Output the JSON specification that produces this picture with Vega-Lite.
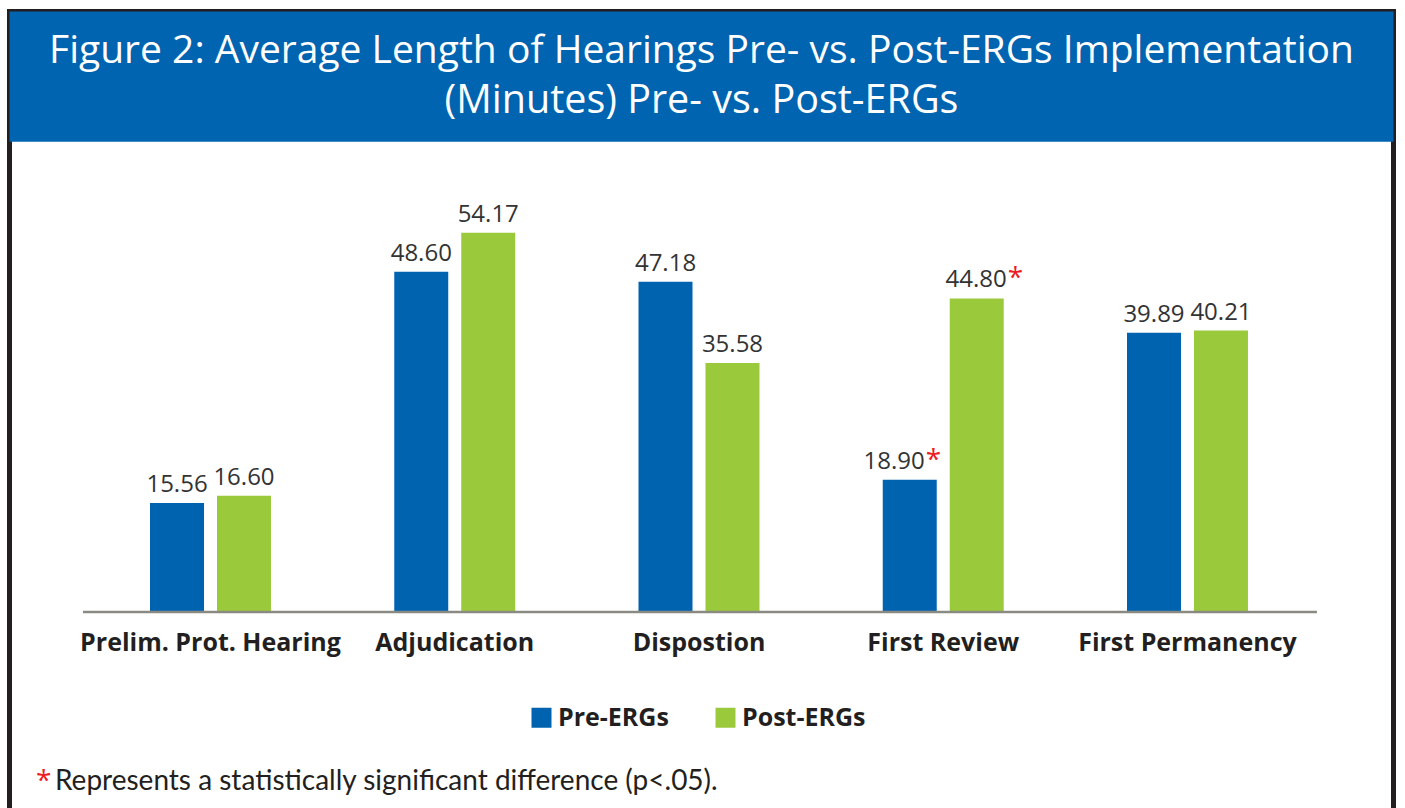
{
  "$schema": "https://vega.github.io/schema/vega-lite/v6.json",
  "width": 1384,
  "height": 799.5,
  "autosize": {"type": "none"},
  "padding": {"left": 9.5, "top": 11.5, "right": 11.5, "bottom": -3},
  "background": "white",
  "config": {
    "view": {"stroke": "#231f20", "strokeWidth": 5, "fill": "white"},
    "font": "Open Sans"
  },
  "data": {
    "values": [
      {"hearing": "Prelim. Prot. Hearing", "period": "Pre-ERGs", "minutes": 15.56, "sig": false},
      {"hearing": "Prelim. Prot. Hearing", "period": "Post-ERGs", "minutes": 16.60, "sig": false},
      {"hearing": "Adjudication", "period": "Pre-ERGs", "minutes": 48.60, "sig": false},
      {"hearing": "Adjudication", "period": "Post-ERGs", "minutes": 54.17, "sig": false},
      {"hearing": "Dispostion", "period": "Pre-ERGs", "minutes": 47.18, "sig": false},
      {"hearing": "Dispostion", "period": "Post-ERGs", "minutes": 35.58, "sig": false},
      {"hearing": "First Review", "period": "Pre-ERGs", "minutes": 18.90, "sig": true},
      {"hearing": "First Review", "period": "Post-ERGs", "minutes": 44.80, "sig": true},
      {"hearing": "First Permanency", "period": "Pre-ERGs", "minutes": 39.89, "sig": false},
      {"hearing": "First Permanency", "period": "Post-ERGs", "minutes": 40.21, "sig": false}
    ]
  },
  "layer": [
    {
      "data": {"values": [{}]},
      "mark": {"type": "rect", "color": "#0064b0"},
      "encoding": {
        "y": {"datum": 67.19, "type": "quantitative", "scale": {"domain": [-28.43, 85.786], "nice": false, "zero": false}, "axis": null},
        "y2": {"datum": 85.786}
      }
    },
    {
      "data": {"values": [{"t": "Figure 2: Average Length of Hearings Pre- vs. Post-ERGs Implementation"}]},
      "mark": {"type": "text", "color": "white", "fontSize": 39, "baseline": "alphabetic", "align": "center", "font": "Open Sans"},
      "encoding": {"text": {"field": "t"}, "y": {"datum": 78.43, "type": "quantitative"}}
    },
    {
      "data": {"values": [{"t": "(Minutes) Pre- vs. Post-ERGs"}]},
      "mark": {"type": "text", "color": "white", "fontSize": 39.5, "baseline": "alphabetic", "align": "center", "font": "Open Sans"},
      "encoding": {"text": {"field": "t"}, "y": {"datum": 71.3, "type": "quantitative"}}
    },
    {
      "mark": {"type": "bar"},
      "encoding": {
        "x": {
          "field": "hearing", "type": "nominal",
          "scale": {"domain": ["Prelim. Prot. Hearing", "Adjudication", "Dispostion", "First Review", "First Permanency"], "paddingInner": 0, "paddingOuter": 0.3332, "align": 0.4846},
          "axis": {"orient": "bottom", "offset": -199, "domain": false, "ticks": false, "tickSize": 0, "grid": false, "labelPadding": 38, "labelBaseline": "alphabetic", "labelFont": "Open Sans", "labelFontWeight": "bold", "labelFontSize": 25, "labelColor": "#231f20", "labelAngle": 0, "labelOverlap": false, "labelBound": false, "labelFlush": false, "labelLimit": 0, "title": null}
        },
        "xOffset": {"field": "period", "type": "nominal", "scale": {"domain": ["Pre-ERGs", "Post-ERGs"], "paddingInner": 0.194, "paddingOuter": 0.92}},
        "y": {"field": "minutes", "type": "quantitative"},
        "color": {
          "field": "period", "type": "nominal",
          "scale": {"domain": ["Pre-ERGs", "Post-ERGs"], "range": ["#0063af", "#9aca3c"]},
          "legend": {"orient": "none", "legendX": 519.5, "legendY": 693.5, "direction": "horizontal", "title": null, "symbolType": "square", "symbolSize": 400, "symbolStrokeWidth": 0, "symbolOpacity": 1, "labelFont": "Open Sans", "labelFontWeight": "bold", "labelFontSize": 25, "labelColor": "#231f20", "labelOffset": 4, "labelLimit": 0, "columnPadding": 44, "padding": 0}
        }
      }
    },
    {
      "data": {"values": [{}]},
      "mark": {"type": "rule", "color": "#8a8a82", "strokeWidth": 2.5},
      "encoding": {
        "x": {"datum": "Prelim. Prot. Hearing", "bandPosition": -0.022},
        "x2": {"datum": "First Permanency", "bandPosition": 1.03},
        "y": {"datum": 0, "type": "quantitative"}
      }
    },
    {
      "transform": [{"filter": "!datum.sig"}],
      "mark": {"type": "text", "baseline": "alphabetic", "align": "center", "dy": -11, "fontSize": 24, "color": "#333333", "font": "Open Sans"},
      "encoding": {
        "x": {"field": "hearing", "type": "nominal"},
        "xOffset": {"field": "period", "type": "nominal"},
        "y": {"field": "minutes", "type": "quantitative"},
        "text": {"field": "minutes", "type": "quantitative", "format": ".2f"}
      }
    },
    {
      "transform": [{"filter": "datum.sig && datum.period == 'Pre-ERGs'"}],
      "mark": {"type": "text", "baseline": "alphabetic", "align": "right", "dx": 15, "dy": -11, "fontSize": 24, "color": "#333333", "font": "Open Sans"},
      "encoding": {
        "x": {"field": "hearing", "type": "nominal"},
        "xOffset": {"field": "period", "type": "nominal"},
        "y": {"field": "minutes", "type": "quantitative"},
        "text": {"field": "minutes", "type": "quantitative", "format": ".2f"}
      }
    },
    {
      "transform": [{"filter": "datum.sig && datum.period == 'Pre-ERGs'"}],
      "mark": {"type": "text", "baseline": "alphabetic", "align": "left", "dx": 16, "dy": -11, "fontSize": 28, "color": "#ed1c24", "font": "Open Sans"},
      "encoding": {
        "x": {"field": "hearing", "type": "nominal"},
        "xOffset": {"field": "period", "type": "nominal"},
        "y": {"field": "minutes", "type": "quantitative"},
        "text": {"value": "*"}
      }
    },
    {
      "transform": [{"filter": "datum.sig && datum.period == 'Post-ERGs'"}],
      "mark": {"type": "text", "baseline": "alphabetic", "align": "right", "dx": 30, "dy": -11, "fontSize": 24, "color": "#333333", "font": "Open Sans"},
      "encoding": {
        "x": {"field": "hearing", "type": "nominal"},
        "xOffset": {"field": "period", "type": "nominal"},
        "y": {"field": "minutes", "type": "quantitative"},
        "text": {"field": "minutes", "type": "quantitative", "format": ".2f"}
      }
    },
    {
      "transform": [{"filter": "datum.sig && datum.period == 'Post-ERGs'"}],
      "mark": {"type": "text", "baseline": "alphabetic", "align": "left", "dx": 31, "dy": -11, "fontSize": 28, "color": "#ed1c24", "font": "Open Sans"},
      "encoding": {
        "x": {"field": "hearing", "type": "nominal"},
        "xOffset": {"field": "period", "type": "nominal"},
        "y": {"field": "minutes", "type": "quantitative"},
        "text": {"value": "*"}
      }
    },
    {
      "data": {"values": [{"t": "*"}]},
      "mark": {"type": "text", "baseline": "alphabetic", "align": "left", "fontSize": 28, "color": "#ed1c24", "font": "Open Sans"},
      "encoding": {
        "text": {"field": "t"},
        "x": {"datum": "Prelim. Prot. Hearing", "bandPosition": -0.2144},
        "y": {"datum": -25.43, "type": "quantitative"}
      }
    },
    {
      "data": {"values": [{"t": "Represents a statistically significant difference (p<.05)."}]},
      "mark": {"type": "text", "baseline": "alphabetic", "align": "left", "fontSize": 28, "color": "#231f20", "font": "Lato"},
      "encoding": {
        "text": {"field": "t"},
        "x": {"datum": "Prelim. Prot. Hearing", "bandPosition": -0.1367},
        "y": {"datum": -25.43, "type": "quantitative"}
      }
    }
  ]
}
